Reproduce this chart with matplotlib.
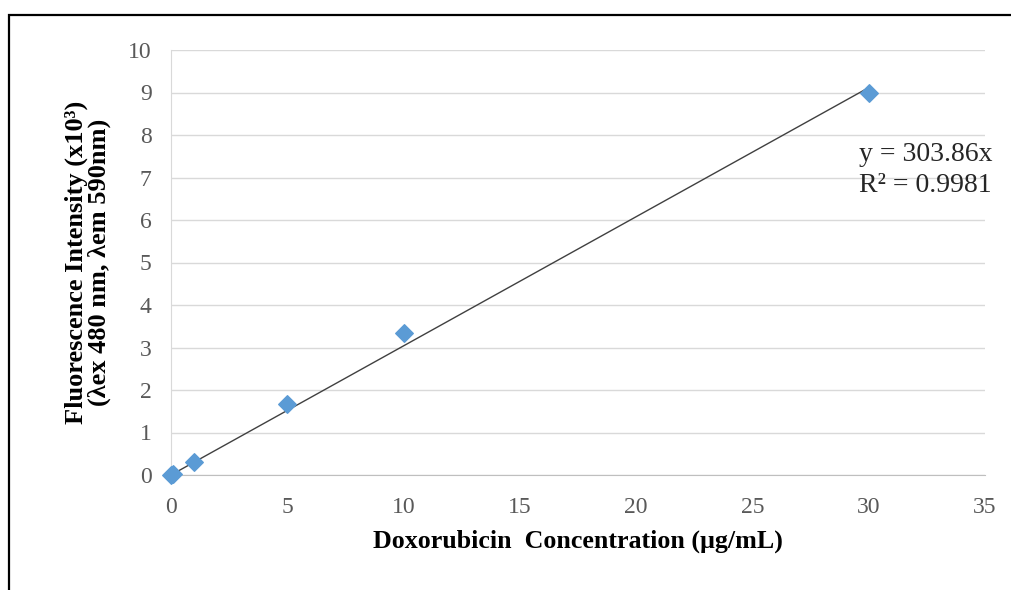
import matplotlib
matplotlib.use("Agg")
import matplotlib.pyplot as plt
from matplotlib.patches import Rectangle
import numpy as np

# Doxorubicin standard curve
conc = [0, 0.1, 1, 5, 10, 30]                  # µg/mL
intensity = [0.0, 0.03, 0.31, 1.66, 3.33, 8.98]  # x10^3
slope = 303.86
r2 = 0.9981

x_ticks = [0, 5, 10, 15, 20, 25, 30, 35]
y_ticks = [0, 1, 2, 3, 4, 5, 6, 7, 8, 9, 10]

plt.rcParams['font.family'] = ['Liberation Serif', 'DejaVu Serif']

fig = plt.figure(figsize=(10.11, 5.90), dpi=100)
ax = fig.add_axes([171 / 1011, 1 - 475 / 590, 814 / 1011, 425 / 590])

# outer chart frame
fig.patches.append(Rectangle((8.5 / 1011, -0.2), 2.0, 1 - 15 / 590 + 0.2,
                             transform=fig.transFigure, fill=False,
                             edgecolor='black', linewidth=1.6, zorder=0))

ax.set_xlim(0, 35)
ax.set_ylim(0, 10)
ax.set_xticks(x_ticks)
ax.set_yticks(y_ticks)
ax.tick_params(length=0, labelsize=17, colors='#595959')
ax.tick_params(axis='y', pad=14)
ax.tick_params(axis='x', pad=16)
ax.grid(axis='y', color='#d9d9d9', linewidth=1.0)
ax.set_axisbelow(True)
for s in ['top', 'right']:
    ax.spines[s].set_visible(False)
ax.spines['left'].set_color('#d9d9d9')
ax.spines['bottom'].set_color('#bfbfbf')

# linear fit through origin
xf = np.array([0, 30])
ax.plot(xf, slope / 1000 * xf, color='#404040', linewidth=1.0, zorder=3)
ax.scatter(conc, intensity, marker='D', s=80, color='#5b9bd5',
           edgecolors='#5b9bd5', zorder=4, clip_on=False)

ax.text(29.6, 7.17, f'y = {slope}x\nR² = {r2}', fontsize=20,
        color='#262626', linespacing=1.3, va='center', ha='left')

ax.set_xlabel('Doxorubicin  Concentration (µg/mL)', fontsize=18.7,
              fontweight='bold', labelpad=8)
ax.set_ylabel('Fluorescence Intensity (x10³)\n(λex 480 nm, λem 590nm)',
              fontsize=19, fontweight='bold', labelpad=12, linespacing=1.0)

fig.savefig('out.png', dpi=100)
